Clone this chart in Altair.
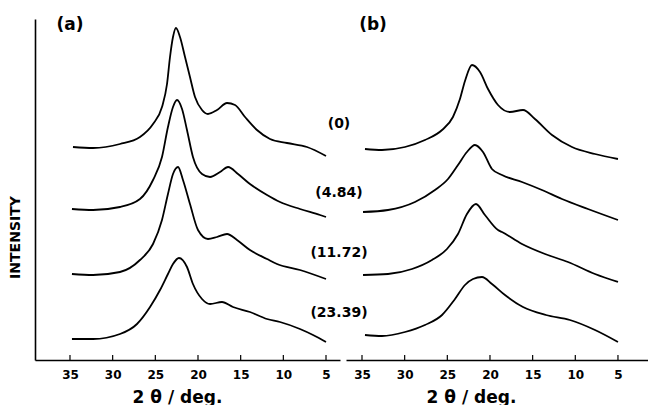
import altair as alt
import pandas as pd

# ---------------- panel (a) ----------------
a0_angle = [34.65, 32.3, 29.14, 26.80, 25.27, 24.22, 23.63, 23.28, 22.93, 22.58, 22.11, 21.52, 20.94, 20.35, 19.53, 18.83, 17.77, 16.60, 15.66, 14.49, 13.09, 11.56, 9.57, 7.23, 5.0]
a0_int = [213, 212, 216, 223, 236, 253, 276, 303, 323, 332, 323, 303, 283, 263, 250, 246, 250, 257, 255, 243, 230, 221, 217, 213, 204]

a1_angle = [34.77, 32.3, 29.14, 26.80, 25.27, 24.22, 23.52, 22.93, 22.46, 21.87, 21.29, 20.59, 19.53, 18.59, 17.42, 16.48, 15.31, 13.91, 11.91, 10.39, 8.05, 5.70, 5.0]
a1_int = [151, 150, 153, 161, 180, 203, 233, 253, 260, 251, 230, 203, 186, 183, 188, 193, 186, 176, 165, 158, 151, 145, 143]

a2_angle = [34.77, 32.3, 29.14, 26.80, 25.27, 24.22, 23.52, 22.93, 22.34, 21.76, 20.94, 20.0, 18.83, 17.77, 16.60, 15.43, 13.91, 11.91, 10.74, 8.05, 5.0]
a2_int = [86, 85, 88, 100, 116, 140, 166, 186, 193, 180, 156, 130, 121, 123, 126, 120, 110, 101, 96, 90, 81]

a3_angle = [34.77, 32.3, 29.14, 27.15, 25.62, 24.45, 23.52, 22.93, 22.23, 21.29, 20.59, 19.53, 18.59, 17.19, 15.90, 13.91, 11.91, 10.39, 8.05, 6.52, 5.0]
a3_int = [21, 21, 26, 36, 53, 70, 86, 96, 102, 93, 76, 61, 56, 58, 53, 48, 41, 38, 31, 25, 18]

# ---------------- panel (b) ----------------
b0_angle = [34.65, 32.66, 29.96, 27.62, 25.62, 24.34, 23.52, 22.93, 22.11, 21.17, 20.23, 19.06, 17.66, 16.13, 14.73, 12.73, 10.39, 7.69, 5.0]
b0_int = [211, 210, 213, 220, 230, 243, 261, 279, 295, 288, 271, 255, 248, 250, 241, 225, 213, 206, 201]

b1_angle = [34.88, 31.95, 28.79, 26.45, 24.92, 23.75, 22.70, 21.76, 20.82, 19.77, 18.59, 16.25, 13.91, 11.56, 8.52, 5.0]
b1_int = [148, 150, 158, 170, 181, 195, 208, 215, 208, 191, 185, 178, 170, 161, 151, 140]

b2_angle = [34.88, 31.95, 29.14, 26.80, 25.04, 23.75, 22.70, 21.64, 20.59, 19.06, 18.59, 16.25, 13.55, 10.86, 7.69, 5.0]
b2_int = [85, 86, 91, 100, 111, 126, 146, 156, 145, 130, 128, 116, 106, 98, 86, 78]

b3_angle = [34.65, 32.66, 29.96, 27.62, 25.62, 24.10, 22.93, 21.99, 20.94, 19.77, 18.24, 16.13, 13.44, 10.63, 7.69, 5.0]
b3_int = [25, 24, 28, 35, 45, 61, 75, 81, 83, 76, 65, 53, 45, 40, 30, 18]

# ---------------- labels ----------------
series_labels = ["(0)", "(4.84)", "(11.72)", "(23.39)"]
label_int = [236, 167, 107, 47]
tick_values = [35, 30, 25, 20, 15, 10, 5]

FONT = "DejaVu Sans"
H = 341
WA = 305
WB = 302


def frame(curves):
    rows = []
    for k, (xs, ys) in enumerate(curves):
        for x, y in zip(xs, ys):
            rows.append({"series": series_labels[k], "angle": x, "intensity": y})
    return pd.DataFrame(rows)


df_a = frame([(a0_angle, a0_int), (a1_angle, a1_int), (a2_angle, a2_int), (a3_angle, a3_int)])
df_b = frame([(b0_angle, b0_int), (b1_angle, b1_int), (b2_angle, b2_int), (b3_angle, b3_int)])
df_ticks = pd.DataFrame({"t": tick_values})
df_lab = pd.DataFrame({"label": series_labels, "intensity": label_int})

yscale = alt.Scale(domain=[0, 341], nice=False, zero=False)


def xaxis(title_x):
    return alt.Axis(
        values=tick_values, format="d", ticks=False, grid=False,
        labelFont=FONT, labelFontSize=12, labelFontWeight="bold", labelColor="black",
        labelPadding=9, labelFlush=False,
        title="2 θ / deg.", titleFont=FONT, titleFontSize=17, titleFontWeight="bold",
        titleColor="black", titlePadding=9, titleX=title_x, titleAlign="center",
        domainColor="black", domainWidth=1.6,
    )


def panel(df, dom, width, title_x, left_axis, letter):
    xs = alt.Scale(domain=dom, reverse=True, nice=False, zero=False)
    if left_axis:
        yax = alt.Axis(
            title="INTENSITY", labels=False, ticks=False, grid=False,
            titleFont=FONT, titleFontSize=14, titleFontWeight="bold", titleColor="black",
            titlePadding=13, titleY=218, titleAlign="center",
            domainColor="black", domainWidth=1.6,
        )
    else:
        yax = None
    lines = alt.Chart(df).mark_line(
        color="black", strokeWidth=1.8, interpolate="monotone", strokeJoin="round", clip=False
    ).encode(
        x=alt.X("angle:Q", scale=xs, axis=xaxis(title_x)),
        y=alt.Y("intensity:Q", scale=yscale, axis=yax),
        detail="series:N",
    )
    ticks = alt.Chart(df_ticks).mark_rule(color="black", strokeWidth=1.2).encode(
        x=alt.X("t:Q", scale=xs),
        y=alt.value(H),
        y2=alt.value(H - 5),
    )
    letter_txt = alt.Chart(pd.DataFrame({"s": [letter]})).mark_text(
        font=FONT, fontSize=17, fontWeight="bold", color="black", align="center", baseline="middle"
    ).encode(
        text="s:N",
        x=alt.value(35 if left_axis else 27),
        y=alt.value(6),
    )
    layers = [lines, ticks, letter_txt]
    if not left_axis:
        labs = alt.Chart(df_lab).mark_text(
            font=FONT, fontSize=14, fontWeight="bold", color="black", align="center", baseline="middle"
        ).encode(
            text="label:N",
            x=alt.value(-7),
            y=alt.Y("intensity:Q", scale=yscale, axis=None),
        )
        layers.append(labs)
    return alt.layer(*layers).properties(width=width, height=H)


left = panel(df_a, [3.36, 39.1], WA, 142, True, "(a)")
right = panel(df_b, [1.48, 36.875], WB, 125, False, "(b)")

chart = alt.hconcat(left, right, spacing=6, bounds="flush").properties(
    padding={"left": 8, "top": 16, "right": 0, "bottom": 0},
    background="white",
).configure_view(strokeWidth=0, stroke="transparent")

chart.save("out.html", embed_options={"renderer": "svg", "actions": False})
